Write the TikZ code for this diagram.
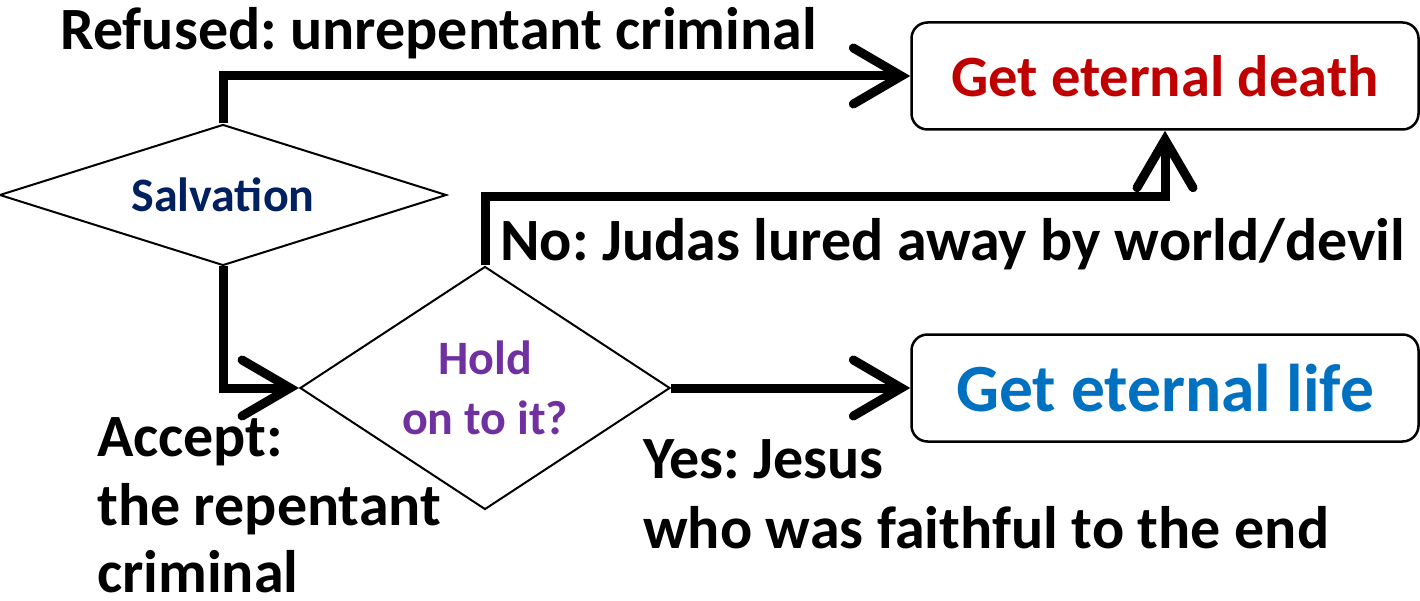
\documentclass[tikz,border=0pt]{standalone}
\usepackage{fontspec}
\setmainfont{Carlito}
\usetikzlibrary{shapes.geometric,arrows.meta}
\definecolor{navy}{HTML}{002060}
\definecolor{purp}{HTML}{7030A0}
\definecolor{dred}{HTML}{C00000}
\definecolor{lblue}{HTML}{0070C0}
\frenchspacing
\begin{document}
\begin{tikzpicture}[x=1pt,y=-1pt,
 lbl/.style={anchor=base west, inner sep=0pt, font=\fontsize{60}{68}\selectfont\bfseries},
 dia/.style={diamond, draw, line width=2pt, inner sep=0pt, font=\fontsize{48}{60}\selectfont\bfseries, align=center},
 outbox/.style={draw, line width=2.5pt, rounded corners=16pt, minimum width=507pt, minimum height=107pt, inner sep=0pt},
 conn/.style={line width=9pt, -{Straight Barb[length=48pt,width=56pt,line cap=round]}}
]
\useasboundingbox (0,0) rectangle (1420,601);
\node[dia, minimum width=447pt, minimum height=141pt, aspect=3.17, text=navy] (sal) at (223,195) {Salvation};
\node[dia, minimum width=370pt, minimum height=243pt, aspect=1.52, text=purp] (hold) at (485,388) {Hold\\on to it?};
\node[outbox, text=dred, font=\fontsize{58.5}{68}\selectfont\bfseries] (death) at (1165,76) {Get eternal death};
\node[outbox, text=lblue, font=\fontsize{67.5}{78}\selectfont\bfseries] (life) at (1165,388) {Get eternal life};

\draw[conn] (sal.north) |- (death.west);
\draw[conn] (sal.south) |- (hold.west);
\draw[conn] (hold.north) -- ++(0,-69) -| (death.south);
\draw[conn] (hold.east) -- (life.west);

\node[lbl] (l1) at (60,50) {Refused: unrepentant criminal};
\node[lbl] (l2) at (500,261) {No: Judas lured away by world/devil};
\node[lbl] (l3) at (97,456) {Accept:};
\node[lbl] (l4) at (97,525) {the repentant};
\node[lbl] (l5) at (97,592) {criminal};
\node[lbl] (l6) at (643,478) {Yes: Jesus};
\node[lbl] (l7) at (643,548) {who was faithful to the end};
\end{tikzpicture}
\end{document}
